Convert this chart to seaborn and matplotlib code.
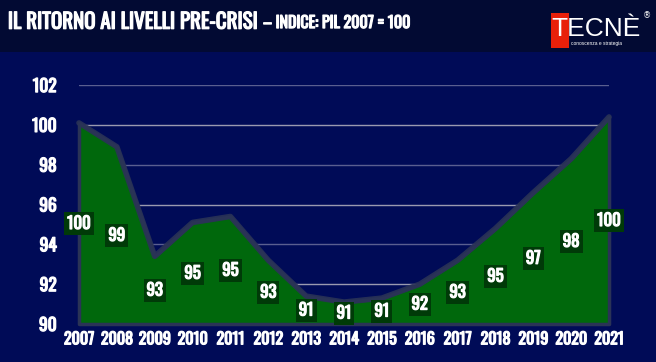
import matplotlib
matplotlib.use("Agg")
import matplotlib.pyplot as plt
import matplotlib.patheffects as pe
import seaborn as sns
import pandas as pd
from matplotlib.patches import Rectangle

# GDP index, 2007 = 100
years = ['2007', '2008', '2009', '2010', '2011', '2012', '2013', '2014',
         '2015', '2016', '2017', '2018', '2019', '2020', '2021']
values = [100.1, 98.9, 93.4, 95.1, 95.4, 93.2, 91.4, 91.1,
          91.3, 92.0, 93.2, 94.8, 96.6, 98.3, 100.4]
labels = ['100', '99', '93', '95', '95', '93', '91', '91',
          '91', '92', '93', '95', '97', '98', '100']
yticks = [90, 92, 94, 96, 98, 100, 102]

df = pd.DataFrame({'year': years, 'value': values, 'label': labels})
df['pos'] = range(len(df))

NAVY = '#000b57'
BAND = '#020a33'
GREEN = '#00680c'
EDGE = '#2a3356'
FONT = ['Oswald', 'Archivo Narrow', 'DejaVu Sans']
BOLD = [pe.withStroke(linewidth=0.9, foreground='white')]

sns.set_style("dark")
plt.rcParams['font.family'] = FONT

fig = plt.figure(figsize=(6.56, 3.62), dpi=100, facecolor=NAVY)
fig.patches.append(Rectangle((0, 0.855), 1, 0.145, transform=fig.transFigure,
                             facecolor=BAND, edgecolor='none', zorder=0))

ax = fig.add_axes([0.1204, 0.105, 0.808, 0.66])
ax.set_facecolor(NAVY)

# gridlines
for t in yticks[1:]:
    bright = t in (92, 96, 100)
    ax.axhline(t, color='#9a9ab0' if bright else '#5a5f90', lw=1.0, zorder=1)

ax.fill_between(df['pos'], df['value'], 90, facecolor=GREEN, edgecolor=EDGE,
                linewidth=2.5, zorder=2, clip_on=False)
sns.lineplot(data=df, x='pos', y='value', ax=ax, color=EDGE, lw=4,
             zorder=3, legend=False, clip_on=False, alpha=0.9)

for _, r in df.iterrows():
    ax.text(r['pos'], (r['value'] + 90) / 2, r['label'], color='white',
            fontsize=12, ha='center', va='center', zorder=5,
            path_effects=BOLD,
            bbox=dict(boxstyle='square,pad=0.18', facecolor='#003a08',
                      edgecolor='none'))

ax.set_xlim(0, len(df) - 1)
ax.set_ylim(90, 102)
ax.set_xticks(df['pos'])
ax.set_xticklabels(years)
ax.set_yticks(yticks)
ax.set_xlabel('')
ax.set_ylabel('')
ax.tick_params(axis='both', colors='white', length=0)
ax.tick_params(axis='y', pad=16, labelsize=12.5)
ax.tick_params(axis='x', pad=6, labelsize=11.5)
for lab in ax.get_xticklabels() + ax.get_yticklabels():
    lab.set_path_effects(BOLD)
for s in ax.spines.values():
    s.set_visible(False)
ax.grid(False)

# title
fig.text(0.012, 0.94, 'IL RITORNO AI LIVELLI PRE-CRISI', color='white',
         fontsize=15.1, va='center', ha='left', path_effects=BOLD)
fig.text(0.401, 0.935, '– INDICE: PIL 2007 = 100', color='white',
         fontsize=11.5, va='center', ha='left', path_effects=BOLD)

# logo
fig.patches.append(Rectangle((551 / 656, 1 - 48 / 362), 18 / 656, 35 / 362,
                             transform=fig.transFigure, facecolor='#e8200a',
                             edgecolor='none', zorder=3))
fig.text(551 / 656, 1 - 29 / 362, 'TECNÈ', color='white', fontsize=19,
         family=['Liberation Sans', 'DejaVu Sans'], va='center', ha='left',
         zorder=4)
fig.text(647 / 656, 1 - 16 / 362, '®', color='white', fontsize=6,
         family=['DejaVu Sans'], va='center', ha='center', zorder=4)
fig.text(571 / 656, 1 - 44 / 362, 'conoscenza e strategia', color='white',
         fontsize=3.5, family=['Liberation Sans', 'DejaVu Sans'],
         va='center', ha='left', zorder=4)

fig.savefig('out.png', dpi=100, facecolor=NAVY)
